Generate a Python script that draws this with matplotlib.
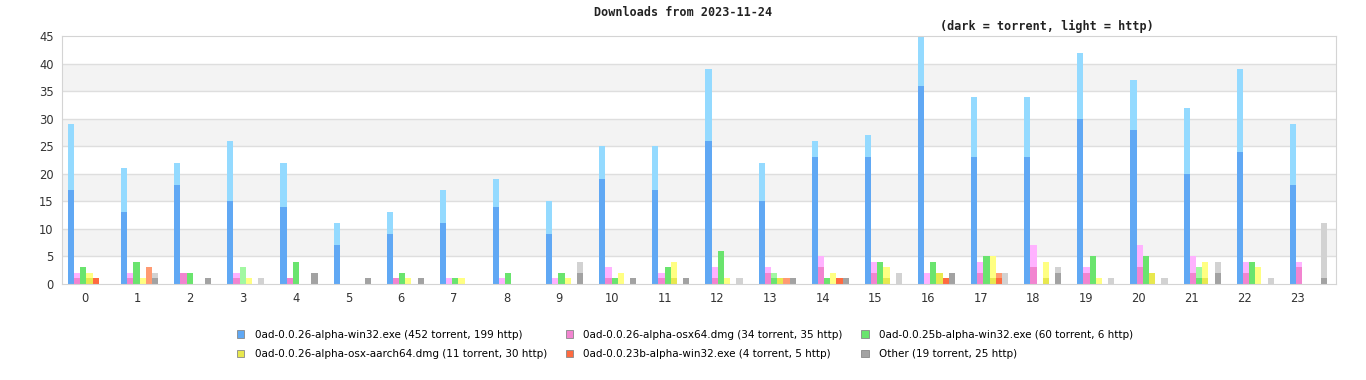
import matplotlib.pyplot as plt
from matplotlib.patches import Patch
import numpy as np

# Data: downloads per hour, torrent (dark) and http (light) for each file
hours = list(range(24))

files = ['0ad-0.0.26-alpha-win32.exe', '0ad-0.0.26-alpha-osx64.dmg', '0ad-0.0.25b-alpha-win32.exe',
         '0ad-0.0.26-alpha-osx-aarch64.dmg', '0ad-0.0.23b-alpha-win32.exe', 'Other']

win32_torrent = [17, 13, 18, 15, 14, 7, 9, 11, 14, 9, 19, 17, 26, 15, 23, 23, 36, 23, 23, 30, 28, 20, 24, 18]
win32_http = [12, 8, 4, 11, 8, 4, 4, 6, 5, 6, 6, 8, 13, 7, 3, 4, 9, 11, 11, 12, 9, 12, 15, 11]

osx64_torrent = [1, 1, 2, 1, 1, 0, 1, 0, 0, 0, 1, 1, 1, 2, 3, 2, 0, 2, 3, 2, 3, 2, 2, 3]
osx64_http = [1, 1, 0, 1, 0, 0, 0, 1, 1, 1, 2, 1, 2, 1, 2, 2, 2, 2, 4, 1, 4, 3, 2, 1]

w25b_torrent = [3, 4, 2, 0, 4, 0, 2, 1, 2, 2, 1, 3, 6, 1, 1, 4, 4, 5, 0, 5, 5, 1, 4, 0]
w25b_http = [0, 0, 0, 3, 0, 0, 0, 0, 0, 0, 0, 0, 0, 1, 0, 0, 0, 0, 0, 0, 0, 2, 0, 0]

aarch64_torrent = [1, 0, 0, 0, 0, 0, 0, 0, 0, 0, 0, 1, 0, 1, 0, 1, 2, 1, 1, 0, 2, 1, 0, 0]
aarch64_http = [1, 1, 0, 1, 0, 0, 1, 1, 0, 1, 2, 3, 1, 0, 2, 2, 0, 4, 3, 1, 0, 3, 3, 0]

w23b_torrent = [1, 0, 0, 0, 0, 0, 0, 0, 0, 0, 0, 0, 0, 0, 1, 0, 1, 1, 0, 0, 0, 0, 0, 0]
w23b_http = [0, 3, 0, 0, 0, 0, 0, 0, 0, 0, 0, 0, 0, 1, 0, 0, 0, 1, 0, 0, 0, 0, 0, 0]

other_torrent = [0, 1, 1, 0, 2, 1, 1, 0, 0, 2, 1, 1, 0, 1, 1, 0, 2, 0, 2, 0, 0, 2, 0, 1]
other_http = [0, 1, 0, 1, 0, 0, 0, 0, 0, 2, 0, 0, 1, 0, 0, 2, 0, 2, 1, 1, 1, 2, 1, 10]

torrent = [win32_torrent, osx64_torrent, w25b_torrent, aarch64_torrent, w23b_torrent, other_torrent]
http = [win32_http, osx64_http, w25b_http, aarch64_http, w23b_http, other_http]

dark = ['#60a8f4', '#f284d0', '#6ae46e', '#e8e84e', '#ff6a40', '#a2a2a2']
light = ['#94daff', '#ffb2ff', '#a2f8a2', '#ffff82', '#ff9a72', '#d2d2d2']

fig = plt.figure(figsize=(13.66, 3.8), dpi=100)
ax = fig.add_axes([62 / 1366, 96 / 380, 1274 / 1366, 248 / 380])

# alternating background bands
for k in range(0, 45, 5):
    if (k // 5) % 2 == 1:
        ax.axhspan(k, k + 5, color='#f3f3f3', zorder=0, lw=0)
for k in range(5, 45, 5):
    ax.axhline(k, color='#dedede', lw=1, zorder=1)

x = np.array(hours)
w = 6.2 / 53.13
for i in range(6):
    pos = x + (i - 2.5) * w
    ax.bar(pos, torrent[i], width=w, color=dark[i], lw=0, zorder=2)
    ax.bar(pos, http[i], width=w, bottom=torrent[i], color=light[i], lw=0, zorder=2)

ax.set_xlim(-0.461, 23.52)
ax.set_ylim(0, 45)
ax.set_yticks(range(0, 46, 5))
# the hour labels sit on a slightly tighter spacing than the bar groups
ax.set_xticks(x * 0.992 - 0.03)
ax.set_xticklabels([str(h) for h in hours])
ax.tick_params(length=0, labelsize=8.3, colors='#333333', pad=6)
for s in ax.spines.values():
    s.set_color('#d4d4d4')

fig.text(0.5, 1 - 13 / 380, 'Downloads from 2023-11-24', ha='center', va='center',
         family='DejaVu Sans Mono', fontsize=8.5, fontweight='bold', color='#222222')
fig.text(1047 / 1366, 1 - 26 / 380, '(dark = torrent, light = http)', ha='center', va='center',
         family='DejaVu Sans Mono', fontsize=8.5, fontweight='bold', color='#222222')

labels = []
for i, name in enumerate(files):
    labels.append('%s (%d torrent, %d http)' % (name, sum(torrent[i]), sum(http[i])))
handles = [Patch(facecolor=dark[i], edgecolor='#888888', lw=0.6) for i in range(6)]
order = [0, 3, 1, 4, 2, 5]
fig.legend([handles[i] for i in order], [labels[i] for i in order], ncol=3,
           loc='center', bbox_to_anchor=(685 / 1366, 35.5 / 380), frameon=False,
           fontsize=7.5, handlelength=0.7, handleheight=0.7, handletextpad=1.0,
           columnspacing=1.8, labelspacing=0.95)

fig.savefig('out.png', dpi=100)
